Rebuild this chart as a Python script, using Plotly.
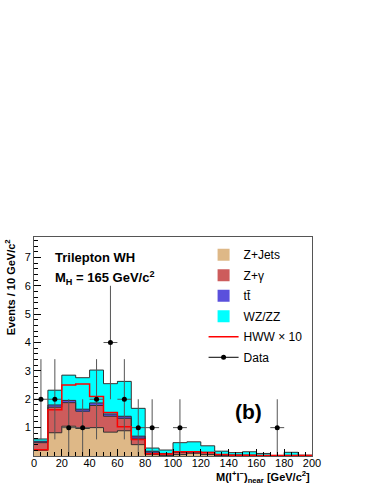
import numpy as np
import plotly.graph_objects as go

# bins of 10 GeV/c^2 from 0 to 200
edges = list(range(0, 210, 10))
centers = [e + 5 for e in edges[:-1]]

# stacked background components (events per bin)
zjets = [0.20, 0.82, 1.05, 0.97, 1.00, 0.84, 0.89, 0.40, 0.05, 0.02,
         0.05, 0.10, 0.05, 0.02, 0.01, 0.01, 0.01, 0.00, 0.01, 0.00]
zgamma = [0.27, 0.90, 0.83, 0.61, 0.78, 0.56, 0.44, 0.23, 0.09, 0.06,
          0.08, 0.04, 0.07, 0.02, 0.02, 0.01, 0.01, 0.01, 0.01, 0.01]
ttbar = [0.05, 0.08, 0.08, 0.07, 0.09, 0.08, 0.07, 0.07, 0.03, 0.01,
         0.01, 0.01, 0.01, 0.01, 0.00, 0.01, 0.00, 0.00, 0.00, 0.00]
wzzz = [0.08, 0.52, 0.89, 1.11, 1.16, 1.07, 1.23, 0.98, 0.11, 0.12,
        0.33, 0.35, 0.23, 0.12, 0.09, 0.12, 0.07, 0.01, 0.11, 0.02]

# signal (x10)
hww = [0.22, 1.63, 2.50, 2.54, 2.10, 1.53, 1.03, 0.58, 0.08, 0.07,
       0.15, 0.15, 0.12, 0.05, 0.03, 0.03, 0.02, 0.02, 0.02, 0.02]

# data points (non-empty bins only)
data_x = [5, 15, 25, 35, 45, 55, 65, 75, 85, 105, 175]
data_y = [2, 2, 1, 1, 2, 4, 2, 1, 1, 1, 1]

names = ["Z+Jets", "Z+γ", "tt̄", "WZ/ZZ"]
colors = ["#DEB887", "#CD5C5C", "#5A50DC", "#00FFFF"]
series = [zjets, zgamma, ttbar, wzzz]

fig = go.Figure()

for i, (name, col, vals) in enumerate(zip(names, colors, series)):
    fig.add_trace(go.Bar(
        x=centers, y=vals, width=10, name=name,
        marker=dict(color=col, line=dict(width=0)),
        legendgroup=str(i), legendrank=i + 1,
    ))

# histogram outlines of the stack
cum = np.cumsum(np.array(series), axis=0)
for row in cum:
    fig.add_trace(go.Scatter(
        x=edges, y=list(row) + [row[-1]], mode="lines", line_shape="hv",
        line=dict(color="#333333", width=1), showlegend=False, hoverinfo="skip",
    ))

fig.add_trace(go.Scatter(
    x=edges, y=hww + [hww[-1]], mode="lines", line_shape="hv",
    line=dict(color="#FF0000", width=1.5), name="HWW × 10",
    legendgroup="4", legendrank=5,
))

fig.add_trace(go.Scatter(
    x=data_x, y=data_y, mode="markers", name="Data", showlegend=False,
    marker=dict(color="black", size=5),
    error_y=dict(type="data", array=list(np.sqrt(data_y)), color="#555555",
                 thickness=1, width=0),
    error_x=dict(type="constant", value=5, color="#555555", thickness=1, width=0),
))
# legend entry for data: marker with a short line
fig.add_trace(go.Scatter(
    x=[None], y=[None], mode="lines+markers", name="Data",
    line=dict(color="black", width=1), marker=dict(color="black", size=5),
    legendgroup="5", legendrank=6,
))

tickfont = dict(family="Liberation Sans", size=11, color="black")

fig.update_layout(
    width=374, height=484,
    margin=dict(l=34, r=62, t=237, b=28),
    plot_bgcolor="white", paper_bgcolor="white",
    barmode="stack", bargap=0,
    font=dict(family="Liberation Sans", color="black"),
    showlegend=True,
    legend=dict(x=0.61, y=0.985, xanchor="left", yanchor="top",
                font=dict(size=12), bgcolor="rgba(0,0,0,0)",
                traceorder="grouped", tracegroupgap=1.5),
    xaxis=dict(range=[0, 200], tick0=0, dtick=20, ticks="inside", ticklen=7,
               tickcolor="black", showline=True, mirror=True, linecolor="#555555",
               showgrid=False, zeroline=False, tickfont=tickfont,
               ticklabelstandoff=-3,
               minor=dict(dtick=5, ticks="inside", ticklen=4, tickcolor="black")),
    yaxis=dict(range=[0, 7.72], tick0=0, dtick=1, ticks="inside", ticklen=7,
               tickcolor="black", showline=True, mirror=True, linecolor="#555555",
               showgrid=False, zeroline=False, tickfont=tickfont,
               tickvals=[1, 2, 3, 4, 5, 6, 7],
               minor=dict(dtick=0.2, ticks="inside", ticklen=4, tickcolor="black")),
)

fig.add_annotation(
    text="<b>Events / 10 GeV/c<sup>2</sup></b>", textangle=-90,
    xref="paper", yref="paper", x=-0.085, y=1.0, xanchor="center", yanchor="top",
    showarrow=False, font=dict(size=11),
)
fig.add_annotation(
    text="<b>M(l<sup>+</sup>l<sup>−</sup>)<sub>near</sub> [GeV/c<sup>2</sup>]</b>",
    xref="paper", yref="paper", x=1.0, y=-0.05, xanchor="right", yanchor="top",
    showarrow=False, font=dict(size=11),
)
fig.add_annotation(
    text="<b>Trilepton WH</b>", xref="paper", yref="paper", x=0.068, y=0.905,
    xanchor="left", yanchor="middle", showarrow=False, font=dict(size=13),
)
fig.add_annotation(
    text="<b>M<sub>H</sub> = 165 GeV/c<sup>2</sup></b>", xref="paper", yref="paper",
    x=0.068, y=0.815, xanchor="left", yanchor="middle", showarrow=False,
    font=dict(size=13),
)
fig.add_annotation(
    text="<b>(b)</b>", xref="paper", yref="paper", x=0.773, y=0.205,
    xanchor="center", yanchor="middle", showarrow=False, font=dict(size=21),
)

fig.write_html("out.html", config={"displayModeBar": False},
               post_script="document.body.style.margin='0';")
